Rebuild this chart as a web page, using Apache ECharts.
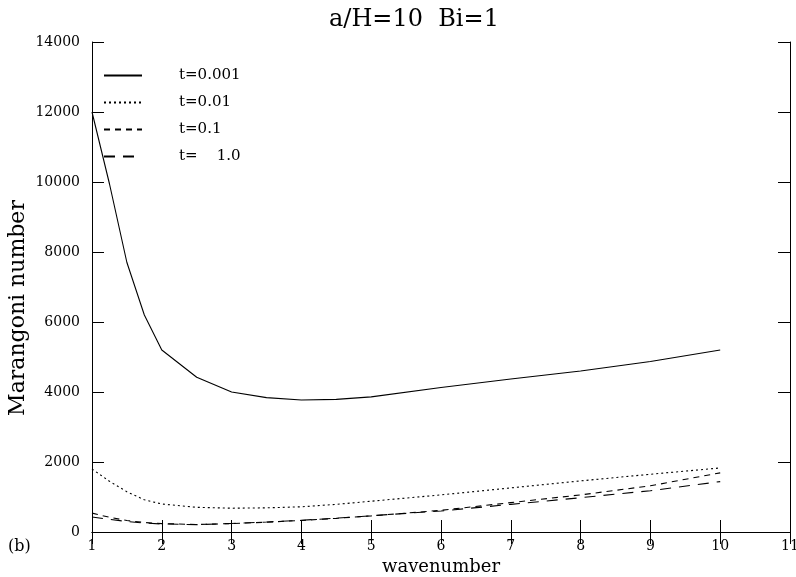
<!DOCTYPE html>
<html>
<head>
<meta charset="utf-8">
<script src="https://cdn.jsdelivr.net/npm/echarts@6/dist/echarts.min.js"></script>
<style>html,body{margin:0;padding:0;background:#fff;}#chart{width:796px;height:577px;}</style>
</head>
<body>
<div id="chart"></div>
<script>
var wavenumbers = [1, 1.25, 1.5, 1.75, 2, 2.5, 3, 3.5, 4, 4.5, 5, 6, 7, 8, 9, 10];
var t0001 = [12000, 9950, 7700, 6200, 5200, 4420, 4000, 3840, 3770, 3790, 3860, 4130, 4370, 4600, 4870, 5200];
var t001  = [1800, 1450, 1150, 920, 800, 705, 680, 690, 720, 790, 880, 1060, 1260, 1460, 1650, 1830];
var t01   = [540, 420, 330, 270, 240, 215, 240, 280, 330, 390, 460, 620, 840, 1060, 1320, 1690];
var t10   = [430, 360, 300, 255, 230, 210, 245, 285, 335, 395, 465, 600, 790, 980, 1180, 1440];
var seriesNames = ['t=0.001', 't=0.01', 't=0.1', 't=    1.0'];
var xTicks = [1, 11, 1];
var yTicks = [0, 14000, 2000];

function pairs(vals) { return wavenumbers.map(function (w, i) { return [w, vals[i]]; }); }
var dashes = ['solid', [2, 3], [6, 5], [11, 8]];
var allVals = [t0001, t001, t01, t10];
var serif = 'DejaVu Serif, serif';

var chart = echarts.init(document.getElementById('chart'), null, {renderer: 'canvas'});
var axisCommon = {
  type: 'value',
  axisLine: {show: true, lineStyle: {color: '#000', width: 1}},
  axisTick: {show: true, inside: true, length: 12, lineStyle: {color: '#000', width: 1}},
  splitLine: {show: false}
};
chart.setOption({
  backgroundColor: '#fff',
  animation: false,
  title: {
    text: 'a/H=10  Bi=1', left: 324, top: 3,
    textStyle: {fontFamily: serif, fontWeight: 'normal', fontSize: 24, color: '#000'}
  },
  legend: {
    orient: 'vertical', left: 98, top: 63, itemWidth: 38, itemHeight: 14, itemGap: 12,
    data: seriesNames,
    itemStyle: {opacity: 0},
    textStyle: {fontFamily: serif, fontSize: 15, color: '#000', padding: [0, 0, 0, 32]}
  },
  grid: {left: 92, right: 6, top: 42, bottom: 45, containLabel: false, outerBoundsMode: 'none'},
  xAxis: [
    Object.assign({}, axisCommon, {
      min: xTicks[0], max: xTicks[1], interval: xTicks[2], position: 'bottom',
      name: 'wavenumber', nameLocation: 'middle', nameGap: 26,
      nameTextStyle: {fontFamily: serif, fontSize: 18, color: '#000'},
      axisLabel: {fontFamily: serif, fontSize: 14, color: '#000', margin: 7}
    }),
    Object.assign({}, axisCommon, {
      min: xTicks[0], max: xTicks[1], interval: xTicks[2], position: 'top',
      axisLabel: {show: false}
    })
  ],
  yAxis: [
    Object.assign({}, axisCommon, {
      min: yTicks[0], max: yTicks[1], interval: yTicks[2], position: 'left',
      axisLabel: {fontFamily: serif, fontSize: 14, color: '#000', margin: 12,
        formatter: function (v) { return String(v); }}
    }),
    Object.assign({}, axisCommon, {
      min: yTicks[0], max: yTicks[1], interval: yTicks[2], position: 'right',
      axisLabel: {show: false}
    })
  ],
  graphic: [{
    type: 'text', left: 8, top: 539,
    style: {text: '(b)', fontFamily: serif, fontSize: 16, fill: '#000'}
  }, {
    type: 'text', x: 18, y: 308, rotation: Math.PI / 2,
    style: {text: 'Marangoni number', fontFamily: serif, fontSize: 22, fill: '#000',
      align: 'center', verticalAlign: 'middle'}
  }],
  series: seriesNames.map(function (n, i) {
    return {
      name: n, type: 'line', xAxisIndex: 0, yAxisIndex: 0,
      data: pairs(allVals[i]), symbol: 'none', smooth: false,
      itemStyle: {color: '#000'},
      lineStyle: {color: '#000', width: 1.1, type: dashes[i]}
    };
  })
});
</script>
</body>
</html>
